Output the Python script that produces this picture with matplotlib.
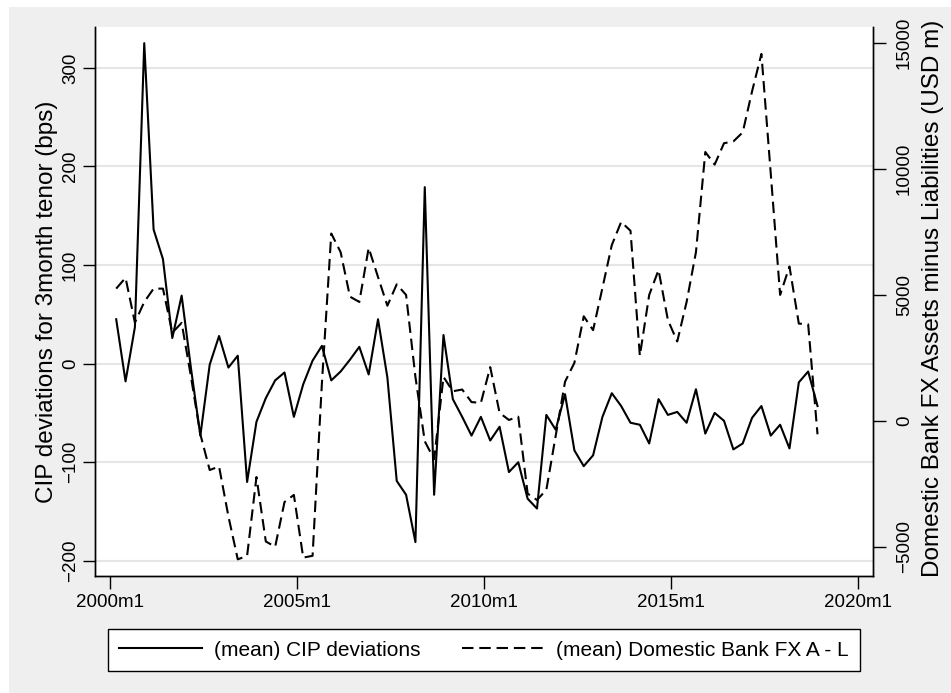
import numpy as np
import matplotlib
matplotlib.use("Agg")
import matplotlib.pyplot as plt
from matplotlib.patches import Rectangle
from matplotlib.lines import Line2D

plt.rcParams['font.family'] = ['Liberation Sans', 'DejaVu Sans']

# quarterly observations, 2000m3 .. 2018m12
start_year = 2000
start_month = 3
n_obs = 76

cip_dev = [45, -18, 37, 325, 136, 106, 26, 69, -5, -73,
           -1, 28, -4, 8, -120, -59, -35, -17, -9, -54,
           -21, 3, 18, -17, -8, 4, 17, -11, 45, -14,
           -119, -133, -181, 179, -133, 29, -36, -54, -73, -54,
           -78, -64, -110, -100, -137, -147, -52, -67, -31, -88,
           -104, -93, -54, -30, -43, -60, -62, -81, -36, -52,
           -49, -60, -26, -71, -50, -58, -87, -81, -55, -43,
           -73, -62, -86, -19, -8, -43]

fx_al = [5250, 5680, 3900, 4720, 5250, 5250, 3500, 3890, 1740, -540,
         -1960, -1820, -3800, -5510, -5370, -2240, -4800, -5010, -3230, -2950,
         -5440, -5370, 1500, 7440, 6700, 4930, 4720, 6870, 5710, 4570,
         5420, 5000, 1740, -820, -1530, 1740, 1170, 1240, 740, 710,
         2130, 310, 30, 160, -2900, -3150, -2750, -600, 1550, 2300,
         4150, 3600, 5280, 6980, 7900, 7550, 2580, 5000, 5990, 4000,
         3150, 4720, 6700, 10680, 10180, 11030, 11100, 11460, 13090, 14580,
         9820, 5000, 6130, 3860, 3830, -540]

x_ticks = [2000, 2005, 2010, 2015, 2020]
x_labels = ['2000m1', '2005m1', '2010m1', '2015m1', '2020m1']
left_ticks = [-200, -100, 0, 100, 200, 300]
right_ticks = [-5000, 0, 5000, 10000, 15000]

# monthly date -> decimal year (m1 sits on the year)
t = start_year + (start_month - 1 + 3 * np.arange(n_obs)) / 12

W, H = 951, 693
dash = (0, (5.5, 2.8))

fig = plt.figure(figsize=(W / 100, H / 100), dpi=100, facecolor='white')
fig.patches.append(Rectangle((9 / W, 0), 1, 1 - 7 / H, transform=fig.transFigure,
                             facecolor='#efefef', edgecolor='none', zorder=-10))

ax = fig.add_axes([95 / W, 1 - 576 / H, (873 - 95) / W, (576 - 27) / H])
ax.set_facecolor('white')
ax2 = ax.twinx()

ax.plot(t, cip_dev, color='black', lw=1.5)
ax2.plot(t, fx_al, color='black', lw=1.5, linestyle=dash)

ax.set_xlim(1999.6, 2020.4)
ax.set_ylim(-215.4, 341.4)
ax2.set_ylim(-6172, 15648)

ax.set_xticks(x_ticks)
ax.set_xticklabels(x_labels)
ax.set_yticks(left_ticks)
ax2.set_yticks(right_ticks)

ax.yaxis.grid(True, color='#e6e6e6', lw=1.5)
ax.set_axisbelow(True)

for a in (ax, ax2):
    a.spines['top'].set_visible(False)
    for s in ('left', 'right', 'bottom'):
        a.spines[s].set_linewidth(1.0)
    a.tick_params(length=9, width=1, labelsize=13.5, color='black', pad=4)
ax.tick_params(axis='y', labelrotation=90, pad=2.5)
ax2.tick_params(axis='y', labelrotation=90, pad=7.5)
for lab in ax.get_yticklabels() + ax2.get_yticklabels():
    lab.set_verticalalignment('center')

ax.set_ylabel('CIP deviations for 3month tenor (bps)', fontsize=17.5)
ax.yaxis.set_label_coords(-0.047, 0.5)
ax2.set_ylabel('Domestic Bank FX Assets minus Liabilities (USD m)', fontsize=17.5)
ax2.yaxis.set_label_coords(1.063, 0.505)

handles = [Line2D([], [], color='black', lw=1.5),
           Line2D([], [], color='black', lw=1.5, linestyle=dash)]
labels = ['(mean) CIP deviations', '(mean) Domestic Bank FX A - L']
leg = fig.legend(handles, labels, loc='lower left',
                 bbox_to_anchor=(108 / W, 1 - 671 / H, (860 - 108) / W, (671 - 626) / H),
                 mode='expand', ncol=2, fontsize=15, handlelength=3.95,
                 handletextpad=0.58, borderaxespad=0, borderpad=0.55,
                 fancybox=False, edgecolor='black', facecolor='white', framealpha=1)
leg.get_frame().set_linewidth(1.0)

fig.savefig('out.png', dpi=100, facecolor=fig.get_facecolor())
